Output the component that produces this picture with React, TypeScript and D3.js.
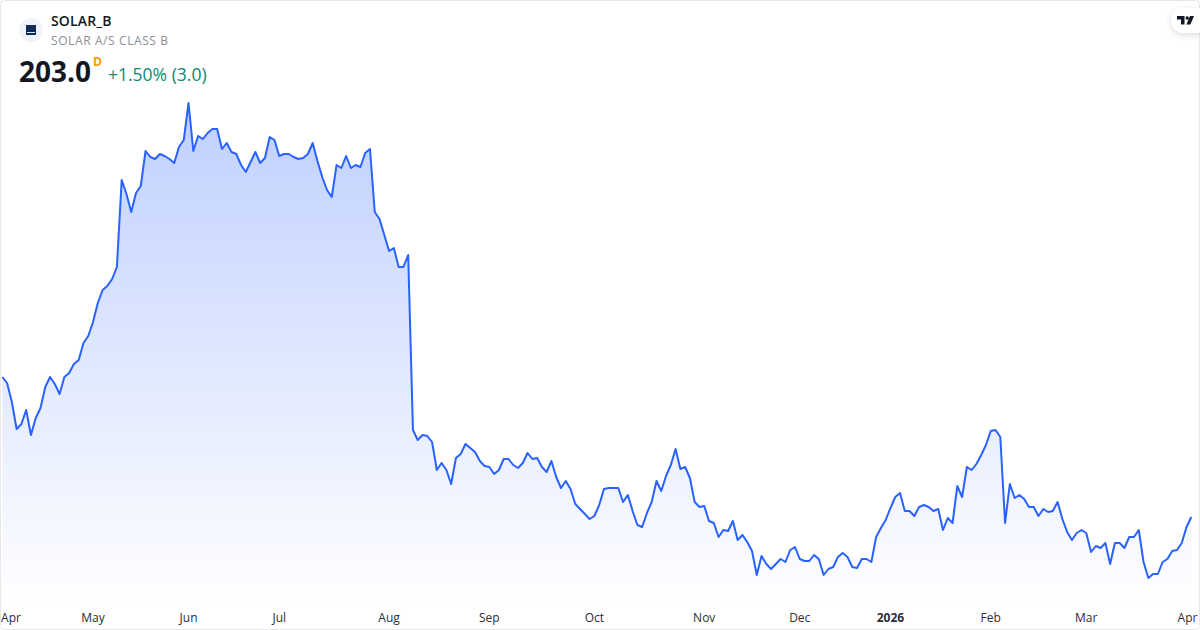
import React, { useEffect, useRef } from "react";
import * as d3 from "d3";

const prices = [
245.0,243.2,237.5,229.4,230.9,235.1,227.6,232.7,235.7,242.0,245.0,242.9,239.9,245.0,246.2,248.9,250.1,255.2,257.3,261.5,
267.2,271.1,272.3,274.4,278.0,304.1,299.9,294.5,300.2,302.3,312.8,311.0,310.4,311.9,311.3,310.4,309.2,314.0,316.1,327.2,
312.8,317.3,316.4,318.2,319.4,319.4,313.4,315.2,312.5,311.9,308.6,306.5,309.5,312.5,309.2,310.7,317.0,316.1,311.3,311.9,
311.9,311.0,310.4,310.7,311.9,315.2,309.8,305.0,301.1,299.0,308.6,307.7,311.3,307.7,308.6,308.0,312.2,313.4,294.5,292.4,
287.6,282.8,283.7,278.0,278.0,281.6,229.1,226.1,227.6,227.3,225.5,217.1,219.2,217.1,212.9,220.7,221.9,224.9,223.7,222.5,
219.8,218.3,218.0,215.9,217.1,220.4,220.4,218.6,217.7,219.2,222.2,220.4,220.7,218.0,216.5,219.8,215.0,211.7,213.8,211.4,
206.9,205.4,203.9,202.4,203.3,206.6,211.4,211.7,211.7,211.7,207.5,209.6,204.8,200.6,200.0,204.2,207.5,213.8,210.8,215.3,
218.6,223.4,217.4,218.0,214.7,207.5,206.0,206.3,201.8,201.2,197.0,199.1,198.8,201.8,196.1,197.6,195.5,192.8,185.6,191.3,
188.9,187.4,188.9,190.4,189.5,193.1,194.0,190.4,189.8,189.8,191.6,190.4,185.6,187.4,188.0,191.0,192.2,191.0,188.0,187.7,
190.4,190.4,189.5,197.0,199.7,202.1,205.7,209.0,210.2,204.8,204.8,203.3,206.0,206.6,206.0,204.8,205.4,199.1,202.7,201.2,
212.3,209.0,218.0,217.1,218.9,221.6,224.6,228.8,229.1,227.0,201.2,212.9,208.7,209.6,208.4,206.0,206.0,203.3,205.4,204.5,
204.8,207.5,202.4,198.5,196.1,198.2,199.1,198.2,192.5,194.3,193.7,195.2,188.9,195.2,195.2,193.7,197.0,197.0,199.1,189.5,
184.7,185.9,185.9,189.5,190.4,192.8,193.1,195.2,200.0,203.0,
];

const tickLabels = ["Apr","May","Jun","Jul","Aug","Sep","Oct","Nov","Dec","2026","Feb","Mar","Apr"];
const tickIndex = [0,19,39,58,81,102,124,147,167,186,207,227,249];

const W = 1200, H = 630;
const FONT = "'Open Sans', 'Noto Sans', sans-serif";

export default function App() {
  const ref = useRef<SVGSVGElement>(null);
  useEffect(() => {
    const svg = d3.select(ref.current!);
    svg.selectAll("*").remove();
    const x = d3.scaleLinear().domain([0, prices.length - 1]).range([2.3, 1191.3]);
    const y = d3.scaleLinear().domain([169.1, 358.1]).range([630, 0]);
    const bottom = 604;

    svg.append("rect").attr("width", W).attr("height", H).attr("fill", "#fff");

    const defs = svg.append("defs");
    const grad = defs.append("linearGradient").attr("id", "fade")
      .attr("gradientUnits", "userSpaceOnUse")
      .attr("x1", 0).attr("x2", 0).attr("y1", y(d3.max(prices)!)).attr("y2", bottom);
    grad.append("stop").attr("offset", 0).attr("stop-color", "#2962ff").attr("stop-opacity", 0.3);
    grad.append("stop").attr("offset", 1).attr("stop-color", "#2962ff").attr("stop-opacity", 0);

    const area = d3.area<number>().x((_, i) => x(i)).y0(bottom).y1(d => y(d));
    const line = d3.line<number>().x((_, i) => x(i)).y(d => y(d));
    svg.append("path").attr("d", area(prices)!).attr("fill", "url(#fade)");
    svg.append("path").attr("d", line(prices)!).attr("fill", "none")
      .attr("stroke", "#2962ff").attr("stroke-width", 2).attr("stroke-linejoin", "round");

    svg.append("g").selectAll("text").data(tickLabels).join("text")
      .attr("x", (_, i) => Math.min(Math.max(x(tickIndex[i]), 11), 1187.5))
      .attr("y", 622)
      .attr("text-anchor", "middle")
      .attr("font-family", FONT)
      .attr("font-size", 12)
      .attr("font-weight", d => d === "2026" ? 700 : 400)
      .attr("fill", "#2a2e39")
      .text(d => d);

    svg.append("rect").attr("x", 0.5).attr("y", 0.5).attr("width", W - 1).attr("height", H - 1)
      .attr("rx", 4).attr("fill", "none").attr("stroke", "#e8e8e8");

    // header
    svg.append("circle").attr("cx", 31).attr("cy", 30).attr("r", 12).attr("fill", "#f0f3fa");
    svg.append("rect").attr("x", 26).attr("y", 25).attr("width", 10).attr("height", 10).attr("fill", "#0d2c5c");
    svg.append("rect").attr("x", 27).attr("y", 32).attr("width", 8).attr("height", 1).attr("fill", "#dfe6f2");
    const t = (s: string, px: number, py: number, size: number, weight: number, fill: string, ls = 0) =>
      svg.append("text").attr("x", px).attr("y", py).attr("font-family", FONT).attr("font-size", size)
        .attr("font-weight", weight).attr("fill", fill).attr("letter-spacing", ls).text(s);
    t("SOLAR_B", 51, 26, 14, 600, "#131722", 0.15);
    t("SOLAR A/S CLASS B", 51, 45, 12, 400, "#8c8f98", 0.6);
    t("203.0", 19, 82, 28, 700, "#131722");
    t("D", 93, 66, 12, 700, "#ff9800");
    t("+1.50% (3.0)", 108, 81, 17.5, 400, "#0b8a74");

    // logo badge
    const badge = svg.append("g");
    defs.append("filter").attr("id", "sh").attr("x", "-30%").attr("y", "-30%").attr("width", "160%").attr("height", "180%")
      .append("feDropShadow").attr("dx", 0).attr("dy", 2).attr("stdDeviation", 3).attr("flood-color", "#000").attr("flood-opacity", 0.14);
    badge.append("rect").attr("x", 1171).attr("y", 8).attr("width", 40).attr("height", 25).attr("rx", 12.5)
      .attr("fill", "#fff").attr("filter", "url(#sh)");
    badge.append("path").attr("fill", "#131722")
      .attr("d", "M1177 16h7.5v8.5h-3.5v-5h-4z M1185.5 18a1.7 1.7 0 1 0 3.4 0a1.7 1.7 0 1 0-3.4 0z M1190 16h4l-3.6 8.5h-4z");
  }, []);
  return (
    <svg ref={ref} width={W} height={H} style={{ position: "absolute", left: 0, top: 0, display: "block" }} />
  );
}
